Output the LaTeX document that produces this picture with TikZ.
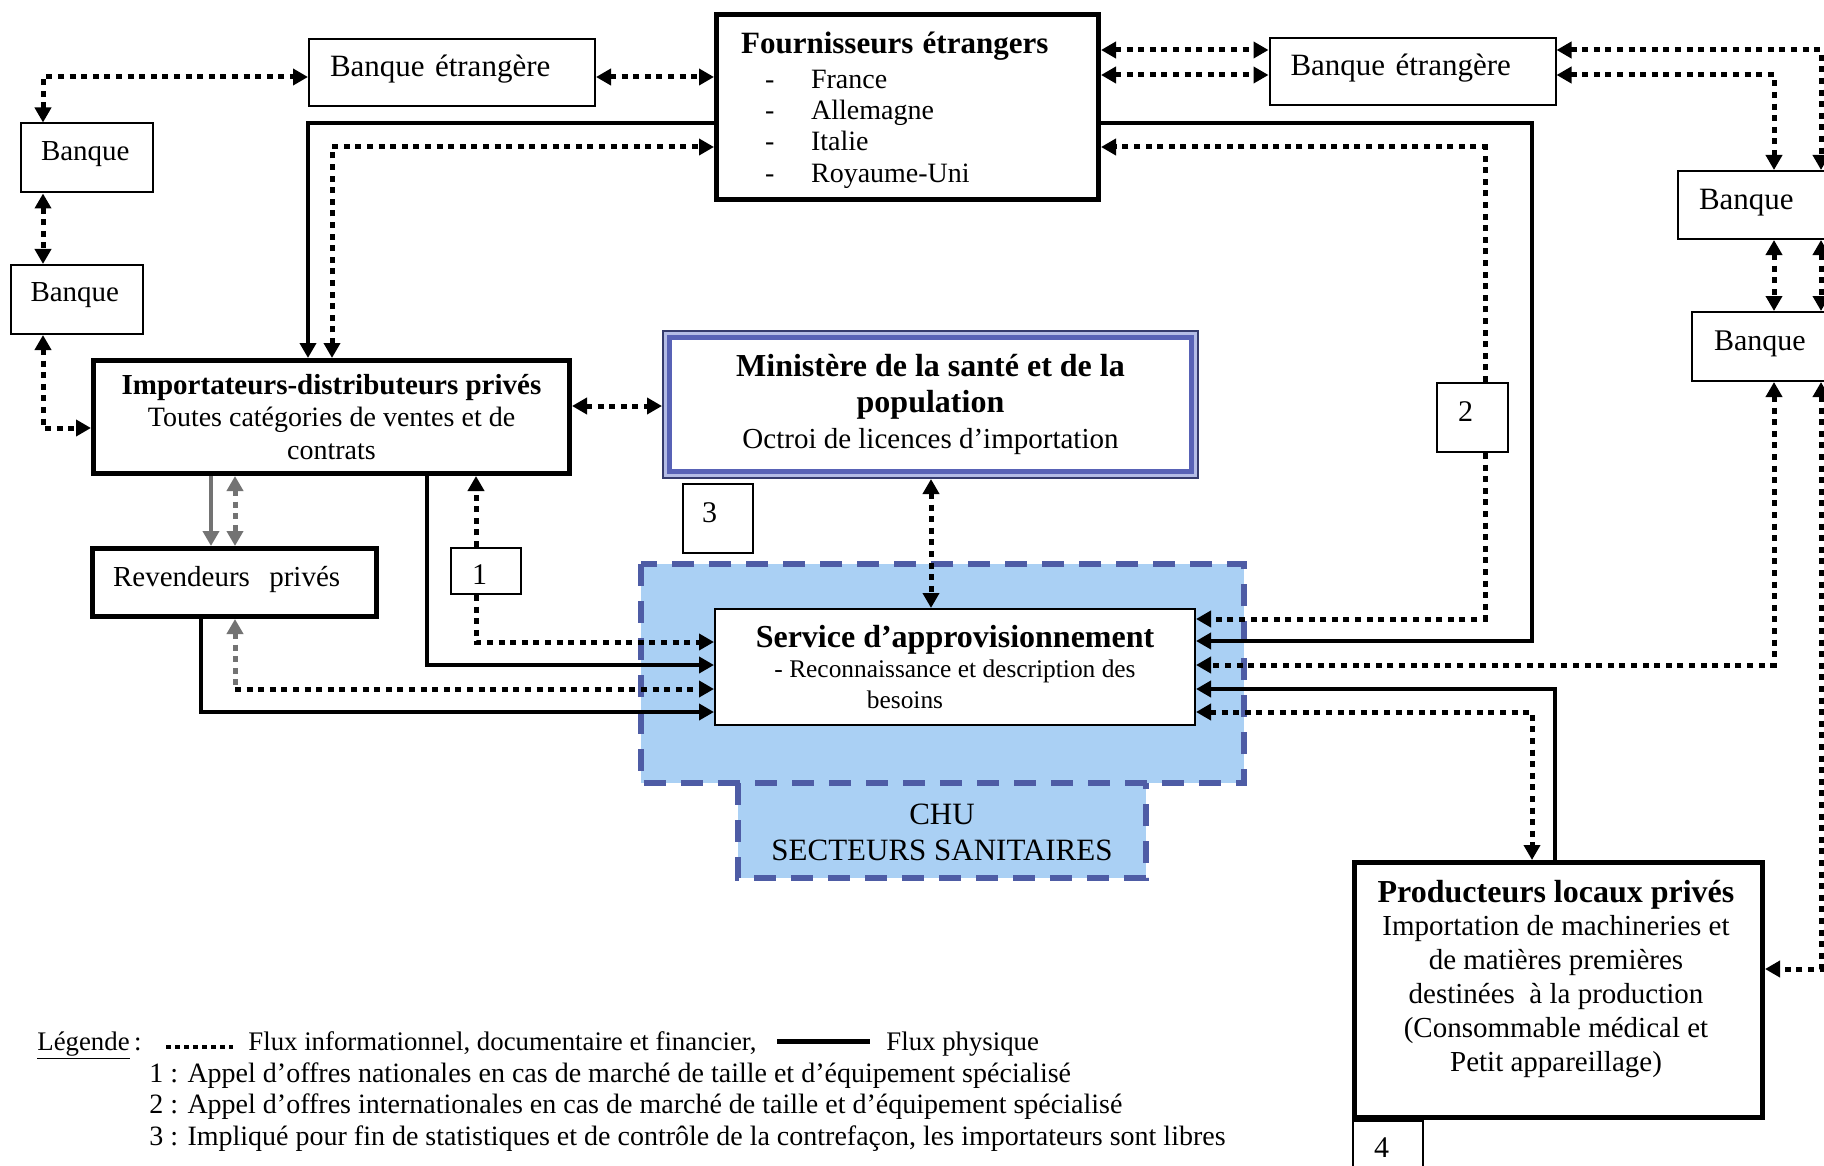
\documentclass[tikz,border=0pt]{standalone}
\usepackage{fontspec}
\setmainfont{Liberation Serif}
\usetikzlibrary{arrows.meta}
\definecolor{chufill}{RGB}{170,208,244}
\definecolor{chuline}{RGB}{78,92,165}
\definecolor{minblue}{RGB}{88,98,182}
\definecolor{minlight}{RGB}{180,188,230}
\definecolor{flowgray}{RGB}{115,115,115}
\newcommand{\myfs}[2]{\fontsize{#1}{#2}\selectfont}
\newcommand{\dashitem}[1]{\makebox[35pt][l]{\hspace*{12pt}-}#1}
\begin{document}
\begin{tikzpicture}[x=0.5pt,y=-0.5pt,
  >={Triangle[length=7.5pt,width=8pt]},
  thinbox/.style={draw,line width=1pt,fill=white,inner sep=0pt},
  thickbox/.style={draw,line width=2.7pt,fill=white,inner sep=0pt},
  info/.style={line width=2.5pt,dash pattern=on 3pt off 2.8pt},
  infogray/.style={info,color=flowgray},
  phys/.style={line width=2.3pt},
  physgray/.style={phys,color=flowgray},
  chudash/.style={draw=chuline,line width=2.6pt,dash pattern=on 11pt off 7.5pt},
  numbox/.style={thinbox,align=left,font=\myfs{15}{17}},
  legtext/.style={anchor=base west,inner sep=0pt,font=\myfs{14}{16}}
]
\useasboundingbox (0,0) rectangle (1824,1166);
\fill[white] (0,0) rectangle (1824,1166);
\clip (0,0) rectangle (1824,1166);

% CHU zone
\node[fill=chufill,minimum width=301.5pt,minimum height=109.5pt,inner sep=0pt,outer sep=0pt] (chuzone) at (942.5,673.5) {};
\node[fill=chufill,minimum width=204pt,minimum height=47.5pt,inner sep=0pt,outer sep=0pt] (chutab) at (942,830.5) {};
\draw[chudash] (chuzone.north west) rectangle (chuzone.south east);
\draw[chudash] (chutab.north west) -- (chutab.south west) -- (chutab.south east) -- (chutab.north east);
\node[align=center,font=\myfs{15.5}{18}] (chutxt) at (942,832) {CHU\\SECTEURS SANITAIRES};

% boxes
\node[thinbox,minimum width=143pt,minimum height=33.5pt,text width=122pt,inner xsep=10.5pt,align=left,text depth=7pt,font=\myfs{15.5}{17}] (bel) at (452,72.5) {Banque étrangère};
\node[thinbox,minimum width=143pt,minimum height=33.5pt,text width=122pt,inner xsep=10.5pt,align=left,text depth=7pt,font=\myfs{15.5}{17}] (ber) at (1412.5,72) {Banque étrangère};

\node[thickbox,minimum width=190.8pt,minimum height=92.3pt,text width=166.4pt,inner xsep=12.2pt,align=left,text height=14pt,font=\myfs{14}{15.7}] (four) at (907.5,107)
 {{\myfs{15.5}{15.7}\bfseries Fournisseurs étrangers}\\[1.5pt]\dashitem{France}\\\dashitem{Allemagne}\\\dashitem{Italie}\\\dashitem{Royaume-Uni}};

\node[thinbox,minimum width=66pt,minimum height=34.5pt,text width=46pt,inner xsep=10pt,align=left,text depth=7pt,font=\myfs{14.5}{16}] (bl1) at (87,158) {Banque};
\node[thinbox,minimum width=66pt,minimum height=34.5pt,text width=46pt,inner xsep=10pt,align=left,text depth=7pt,font=\myfs{14.5}{16}] (bl2) at (76.5,299.5) {Banque};
\node[thinbox,anchor=west,minimum height=34pt,text width=90pt,inner xsep=10.5pt,align=left,text depth=6pt,font=\myfs{15.5}{17}] (br1) at (1677,205) {Banque};
\node[thinbox,anchor=west,minimum height=34.5pt,text width=90pt,inner xsep=11pt,align=left,text depth=6pt,font=\myfs{15}{17}] (br2) at (1691,346.5) {Banque};

\node[thickbox,minimum width=237.8pt,minimum height=56.3pt,align=center,font=\myfs{14}{16.25}] (imp) at (331.5,417)
 {{\myfs{14.5}{16.25}\bfseries Importateurs-distributeurs privés}\\Toutes catégories de ventes et de\\contrats};

\node[draw=minblue,line width=2.5pt,outer sep=3.75pt,fill=white,minimum width=261pt,minimum height=67pt,inner sep=0pt,align=center,font=\myfs{14.5}{18}] (min) at (930.5,404.5)
 {{\myfs{16}{18}\bfseries Ministère de la santé et de la}\\{\myfs{16}{18}\bfseries population}\\Octroi de licences d’importation};
\draw[minlight,line width=1.8pt] ([shift={(1.7pt,-1.7pt)}]min.north west) rectangle ([shift={(-1.7pt,1.7pt)}]min.south east);
\draw[minblue!60!black,line width=0.8pt] ([shift={(0.4pt,-0.4pt)}]min.north west) rectangle ([shift={(-0.4pt,0.4pt)}]min.south east);

\node[thickbox,minimum width=141.8pt,minimum height=33.8pt,text width=121.4pt,inner xsep=10.2pt,align=left,text depth=6pt,font=\myfs{14.5}{16}] (rev) at (234.5,582.5) {Revendeurs\ \ privés};

\node[draw,line width=1.2pt,fill=white,inner sep=0pt,minimum width=239.8pt,minimum height=57.8pt,align=center,font=\myfs{12.7}{15.25}] (srv) at (955,667)
 {{\myfs{16}{15.25}\bfseries Service d’approvisionnement}\\- Reconnaissance et description des\\besoins\hspace*{50pt}};

\node[thickbox,minimum width=203.8pt,minimum height=127.3pt] (prod) at (1558.5,990) {};
\node[align=center,font=\myfs{14.5}{16.9}] (prodtxt) at (1556,978.5)
 {{\myfs{16}{16.9}\bfseries Producteurs locaux privés}\\Importation de machineries et\\de matières premières\\destinées\ \ à la production\\(Consommable médical et\\Petit appareillage)};

\node[numbox,minimum height=23pt,text width=14pt,inner xsep=10.5pt,text height=13pt] (n1) at (486,571) {1};
\node[numbox,minimum height=34.5pt,text width=14.5pt,inner xsep=10.5pt,text depth=5.5pt] (n2) at (1472.5,417.5) {2};
\node[numbox,minimum height=34.5pt,text width=16pt,inner xsep=9.5pt,text depth=5.5pt] (n3) at (718,518.5) {3};
\node[numbox,minimum height=27pt,text width=14pt,inner xsep=10.5pt] (n4) at (1388,1148) {4};

% connectors
\coordinate (ca) at (43,77);
\draw[info,<->] (bl1.north -| ca) -- (ca) -- (bel.west |- ca);
\draw[info,<->] (bel.east |- ca) -- (four.west |- ca);
\draw[info,<->] (bl1.south -| ca) -- (bl2.north -| ca);
\coordinate (cd) at (43,428);
\draw[info,<->] (bl2.south -| cd) -- (cd) -- (imp.west |- cd);
\coordinate (ce) at (308,123);
\draw[phys,->] (four.west |- ce) -- (ce) -- (imp.north -| ce);
\coordinate (cf) at (332,147);
\draw[info,<->] (imp.north -| cf) -- (cf) -- (four.west |- cf);
\coordinate (cg) at (572,406);
\draw[info,<->] (imp.east |- cg) -- (min.west |- cg);
\coordinate (ch) at (211,510);
\draw[physgray,->] (imp.south -| ch) -- (rev.north -| ch);
\coordinate (ci) at (235,510);
\draw[infogray,<->] (imp.south -| ci) -- (rev.north -| ci);
\coordinate (cj) at (427,665);
\draw[phys,->] (imp.south -| cj) -- (cj) -- (srv.west |- cj);
\coordinate (ck) at (476,642);
\draw[info,->] (n1.south -| ck) -- (ck) -- (srv.west |- ck);
\draw[info,->] (n1.north -| ck) -- (imp.south -| ck);
\coordinate (cl) at (235,689);
\draw[infogray,<-] (rev.south -| cl) -- (cl);
\draw[info,->] (cl) -- (srv.west |- cl);
\coordinate (cm) at (201,712);
\draw[phys,->] (rev.south -| cm) -- (cm) -- (srv.west |- cm);
\coordinate (cn) at (931,560);
\draw[info,<->] (min.south -| cn) -- (srv.north -| cn);
\coordinate (co1) at (1532,123);
\coordinate (co2) at (1532,641);
\draw[phys,->] (four.east |- co1) -- (co1) -- (co2) -- (srv.east |- co2);
\coordinate (cp1) at (1485,147);
\coordinate (cp2) at (1485,619);
\draw[info,->] (n2.north -| cp1) -- (cp1) -- (four.east |- cp1);
\draw[info,->] (n2.south -| cp2) -- (cp2) -- (srv.east |- cp2);
\coordinate (cq1) at (1100,50);
\coordinate (cq2) at (1100,75);
\draw[info,<->] (four.east |- cq1) -- (ber.west |- cq1);
\draw[info,<->] (four.east |- cq2) -- (ber.west |- cq2);
\coordinate (cr1) at (1821,50);
\coordinate (cr2) at (1774,75);
\draw[info,<->] (ber.east |- cr1) -- (cr1) -- (br1.north -| cr1);
\draw[info,<->] (ber.east |- cr2) -- (cr2) -- (br1.north -| cr2);
\draw[info,<->] (br1.south -| cr1) -- (br2.north -| cr1);
\draw[info,<->] (br1.south -| cr2) -- (br2.north -| cr2);
\coordinate (ct) at (1774,665);
\draw[info,<->] (br2.south -| ct) -- (ct) -- (srv.east |- ct);
\coordinate (cu) at (1821,969);
\draw[info,<->] (br2.south -| cu) -- (cu) -- (prod.east |- cu);
\coordinate (cv) at (1555,689);
\draw[phys,->] (prod.north -| cv) -- (cv) -- (srv.east |- cv);
\coordinate (cw) at (1532,712);
\draw[info,<->] (srv.east |- cw) -- (cw) -- (prod.north -| cw);

% legend
\node[legtext,font=\myfs{13.4}{16}] (leg0) at (37,1050) {\underline{Légende}\,:};
\coordinate (ls1) at (166,1047);
\coordinate (ls2) at (233,1047);
\draw[line width=2pt,dash pattern=on 2.5pt off 2pt] (ls1) -- (ls2);
\node[legtext,font=\myfs{13.4}{16}] (leg1) at (248,1050) {Flux informationnel, documentaire et financier,};
\coordinate (lp1) at (777,1041);
\coordinate (lp2) at (870,1041);
\draw[line width=2.5pt] (lp1) -- (lp2);
\node[legtext,font=\myfs{13.4}{16}] (leg2) at (886,1050) {Flux physique};
\node[legtext] (leg3) at (149,1082) {1 : Appel d’offres nationales en cas de marché de taille et d’équipement spécialisé};
\node[legtext] (leg4) at (149,1113) {2 : Appel d’offres internationales en cas de marché de taille et d’équipement spécialisé};
\node[legtext] (leg5) at (149,1145) {3 : Impliqué pour fin de statistiques et de contrôle de la contrefaçon, les importateurs sont libres};
\end{tikzpicture}
\end{document}
